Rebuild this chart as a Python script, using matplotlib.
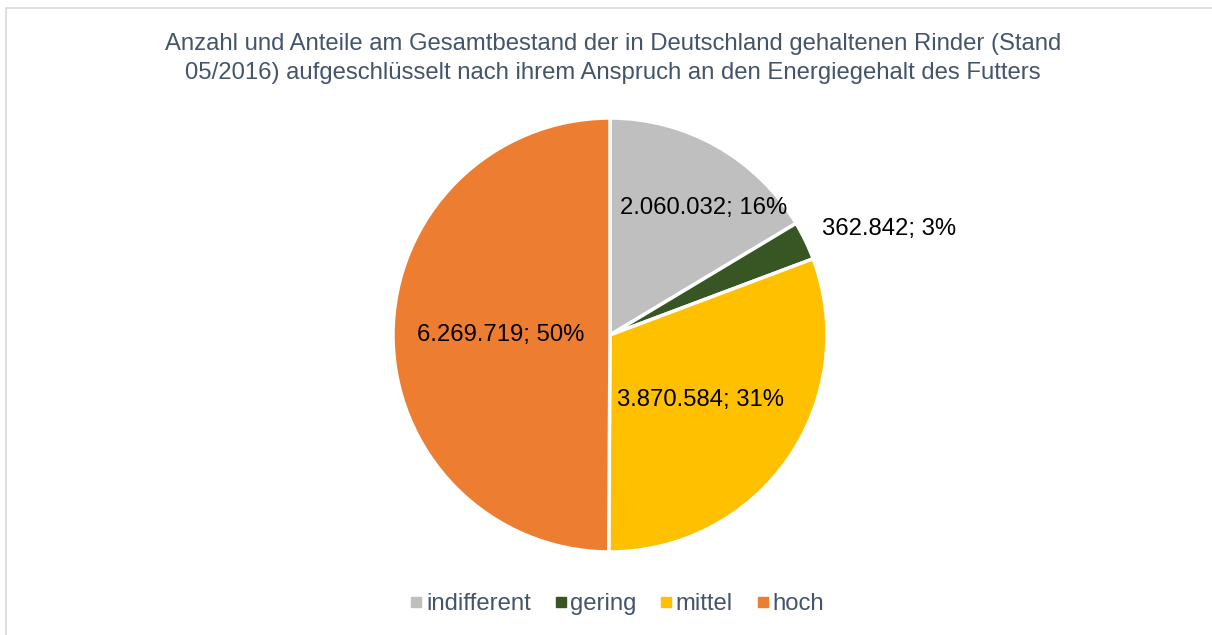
import matplotlib
matplotlib.use("Agg")
import matplotlib.pyplot as plt
from matplotlib.patches import Rectangle
from matplotlib.lines import Line2D
import numpy as np

categories = ["indifferent", "gering", "mittel", "hoch"]
values = [2060032, 362842, 3870584, 6269719]
colors = ["#BFBFBF", "#375623", "#FFC000", "#ED7D31"]
# label centre offsets in pie-radius units (layout only)
label_pos = [(0.433, 0.585), (1.286, 0.488), (0.415, -0.30), (-0.502, 0.0)]
title = ("Anzahl und Anteile am Gesamtbestand der in Deutschland gehaltenen Rinder (Stand\n"
         "05/2016) aufgeschlüsselt nach ihrem Anspruch an den Energiegehalt des Futters")

plt.rcParams['font.family'] = ['Liberation Sans', 'DejaVu Sans']
W, H = 1212, 635
fig = plt.figure(figsize=(W / 100, H / 100), dpi=100)

# outer frame
fig.patches.append(Rectangle((6 / W, -0.05), 1.1, (H - 8) / H + 0.05, transform=fig.transFigure,
                             fill=False, edgecolor="#D9D9D9", linewidth=1.2))

cx, cy, r = 610, 335, 217
ax = fig.add_axes([(cx - r) / W, (H - cy - r) / H, 2 * r / W, 2 * r / H])
wedges, _ = ax.pie(values, colors=colors, startangle=90, counterclock=False,
                   wedgeprops=dict(edgecolor="white", linewidth=2.5))
ax.set_xlim(-1, 1)
ax.set_ylim(-1, 1)
ax.set_aspect("equal")
ax.axis("off")

total = sum(values)
for v, (lx, ly) in zip(values, label_pos):
    pct = round(v / total * 100)
    txt = f"{v:,}".replace(",", ".") + f"; {pct}%"
    ax.text(lx, ly, txt, ha="center", va="center",
            fontsize=17.2, color="black", clip_on=False)

fig.text(613 / W, 1 - 58.5 / H, title, ha="center", va="center", fontsize=17.2,
         color="#44546A", linespacing=1.38)

handles = [Line2D([], [], marker="s", linestyle="none", markersize=7,
                  markerfacecolor=c, markeredgecolor=c) for c in colors]
fig.legend(handles, categories, loc="center", bbox_to_anchor=(616 / W, 1 - 604 / H),
           ncol=4, frameon=False, fontsize=17.2, labelcolor="#44546A",
           handletextpad=0.05, columnspacing=0.9, handlelength=0.7)

fig.savefig("out.png", dpi=100)
